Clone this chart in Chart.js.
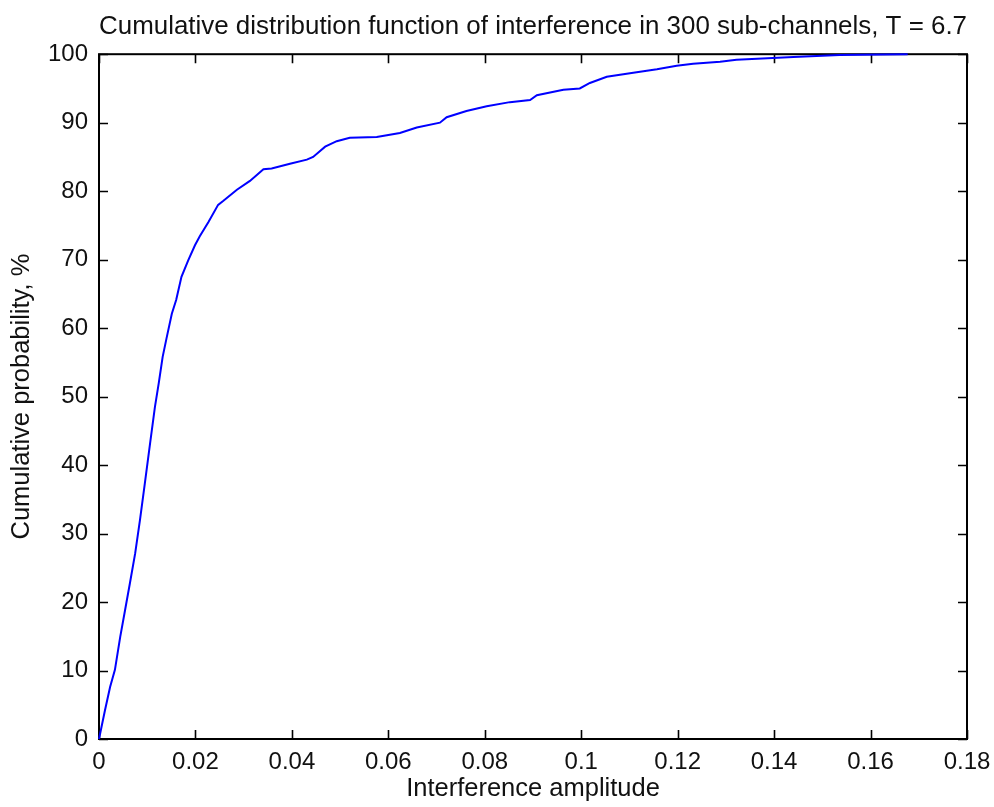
<!DOCTYPE html>
<html>
<head>
<meta charset="utf-8">
<script src="https://cdn.jsdelivr.net/npm/chart.js@4/dist/chart.umd.min.js"></script>
<style>
  html, body { margin: 0; padding: 0; background: #fff; }
  #wrap { width: 994px; height: 807px; }
</style>
</head>
<body>
<div id="wrap"><canvas id="c" width="994" height="807"></canvas></div>
<script>
// Data
const amplitude = [0, 0.00124, 0.0023, 0.0033, 0.0044, 0.0054, 0.0064, 0.0075, 0.0085, 0.0095,
  0.0106, 0.0116, 0.0124, 0.0132, 0.0140, 0.0151, 0.0160, 0.0171, 0.0185, 0.0199,
  0.0209, 0.0227, 0.0247, 0.0258, 0.0286, 0.0313, 0.0341, 0.0358, 0.0396, 0.0431,
  0.0444, 0.0469, 0.0493, 0.0520, 0.0576, 0.0624, 0.0659, 0.0707, 0.0721, 0.0762,
  0.0804, 0.0852, 0.0894, 0.0908, 0.0963, 0.0997, 0.1018, 0.1053, 0.1108, 0.1157,
  0.1198, 0.1232, 0.1288, 0.1322, 0.1440, 0.1536, 0.1677];
const probability = [0, 4.2, 7.6, 10.1, 14.9, 18.8, 22.7, 27.1, 32, 37.3,
  43.2, 48.5, 52, 55.8, 58.5, 62.1, 64.1, 67.5, 69.9, 72.1,
  73.4, 75.5, 78, 78.6, 80.2, 81.5, 83.2, 83.3, 84.0, 84.6,
  85.0, 86.5, 87.3, 87.8, 87.9, 88.5, 89.3, 90.0, 90.8, 91.7,
  92.4, 93.0, 93.3, 94.0, 94.8, 95.0, 95.8, 96.7, 97.3, 97.8,
  98.3, 98.6, 98.9, 99.2, 99.6, 99.9, 100];
const xTickValues = [0, 0.02, 0.04, 0.06, 0.08, 0.1, 0.12, 0.14, 0.16, 0.18];
const yTickValues = [0, 10, 20, 30, 40, 50, 60, 70, 80, 90, 100];
const titleText = 'Cumulative distribution function of interference in 300 sub-channels, T = 6.7';
const xTitle = 'Interference amplitude';
const yTitle = 'Cumulative probability, %';

const points = amplitude.map((x, i) => ({ x: x, y: probability[i] }));
const FONT = '"Liberation Sans", Arial, sans-serif';

const boxPlugin = {
  id: 'matlabBox',
  beforeDatasetsDraw(chart) {
    const { ctx, chartArea: a, scales } = chart;
    ctx.save();
    ctx.strokeStyle = '#000';
    ctx.lineWidth = 2;
    ctx.strokeRect(a.left, a.top, a.right - a.left, a.bottom - a.top);
    const len = 9;
    ctx.lineWidth = 1.6;
    ctx.beginPath();
    xTickValues.forEach(v => {
      const px = Math.round(scales.x.getPixelForValue(v)) + 0.5;
      ctx.moveTo(px, a.bottom); ctx.lineTo(px, a.bottom - len);
      ctx.moveTo(px, a.top); ctx.lineTo(px, a.top + len);
    });
    yTickValues.forEach(v => {
      const py = Math.round(scales.y.getPixelForValue(v)) + 0.5;
      ctx.moveTo(a.left, py); ctx.lineTo(a.left + len, py);
      ctx.moveTo(a.right, py); ctx.lineTo(a.right - len, py);
    });
    ctx.stroke();
    ctx.restore();
  }
};

new Chart(document.getElementById('c'), {
  type: 'scatter',
  data: {
    datasets: [{
      data: points,
      showLine: true,
      borderColor: '#0000ff',
      borderWidth: 2,
      pointRadius: 0,
      tension: 0,
      fill: false,
      clip: false
    }]
  },
  options: {
    responsive: false,
    animation: false,
    layout: { padding: { left: 0, right: 27, top: 0, bottom: 0 } },
    plugins: {
      legend: { display: false },
      tooltip: { enabled: false },
      title: {
        display: true,
        fullSize: false,
        text: titleText,
        color: '#111',
        font: { family: FONT, size: 26, weight: 'normal', lineHeight: 1.2 },
        padding: { top: 11, bottom: 12 }
      }
    },
    scales: {
      x: {
        type: 'linear',
        min: 0, max: 0.18,
        afterBuildTicks: s => { s.ticks = xTickValues.map(v => ({ value: v })); },
        afterFit: s => { s.height = 68; s.paddingLeft = 0; s.paddingRight = 0; },
        ticks: {
          color: '#111',
          font: { family: FONT, size: 24 },
          padding: 9,
          maxRotation: 0,
          autoSkip: false,
          callback: v => String(Number(v.toFixed(2)))
        },
        grid: { display: false, drawTicks: false },
        border: { display: false },
        title: {
          display: true, text: xTitle, color: '#111',
          font: { family: FONT, size: 25.5 },
          padding: { top: 0, bottom: 3 }
        }
      },
      y: {
        type: 'linear',
        min: 0, max: 100,
        afterBuildTicks: s => { s.ticks = yTickValues.map(v => ({ value: v })); },
        afterFit: s => { s.width = 99; s.paddingTop = 0; s.paddingBottom = 0; },
        ticks: {
          color: '#111',
          font: { family: FONT, size: 24 },
          padding: 11,
          autoSkip: false
        },
        grid: { display: false, drawTicks: false },
        border: { display: false },
        title: {
          display: true, text: yTitle, color: '#111',
          font: { family: FONT, size: 25.5 },
          padding: { top: 7, bottom: 0 }
        }
      }
    }
  },
  plugins: [boxPlugin]
});
</script>
</body>
</html>
